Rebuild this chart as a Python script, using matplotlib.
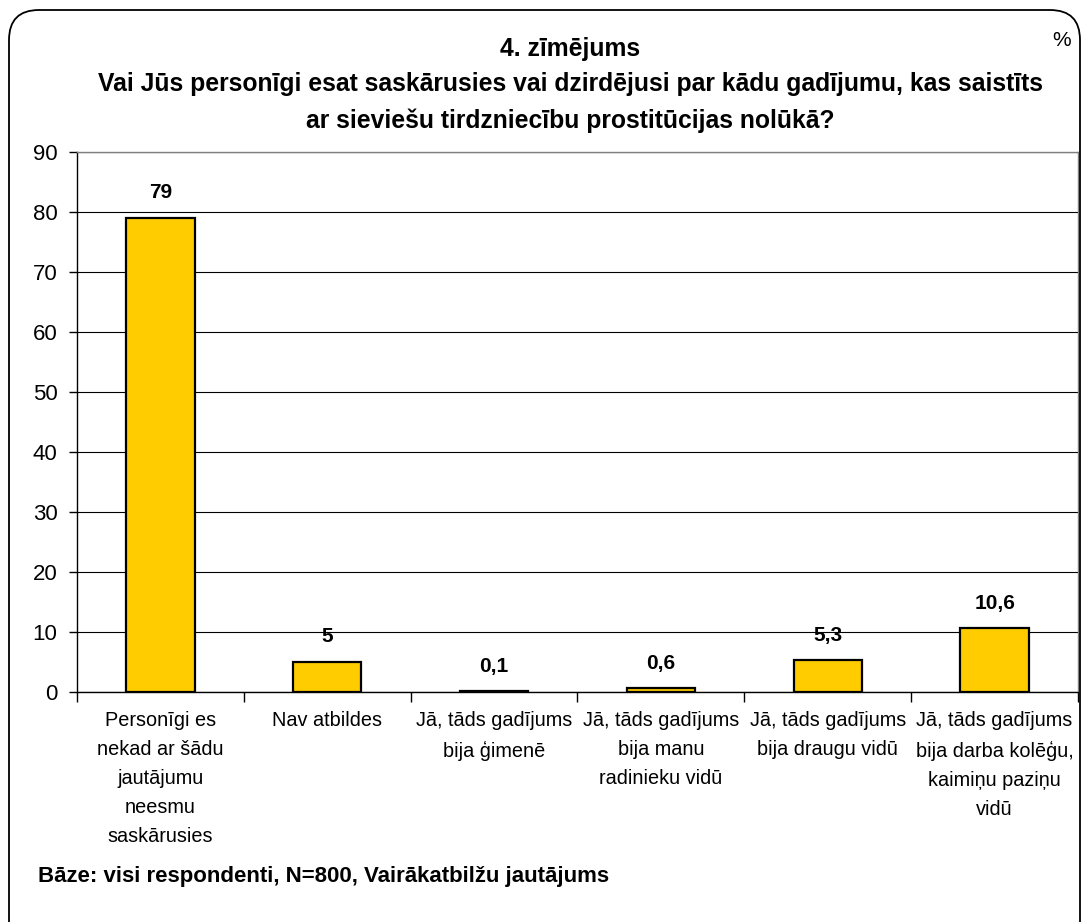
import matplotlib.pyplot as plt
import numpy as np
from matplotlib.patches import FancyBboxPatch
from matplotlib.transforms import IdentityTransform

plt.rcParams['font.family'] = ['Liberation Sans', 'DejaVu Sans']

categories = [
    "Personīgi es\nnekad ar šādu\njautājumu\nneesmu\nsaskārusies",
    "Nav atbildes",
    "Jā, tāds gadījums\nbija ģimenē",
    "Jā, tāds gadījums\nbija manu\nradinieku vidū",
    "Jā, tāds gadījums\nbija draugu vidū",
    "Jā, tāds gadījums\nbija darba kolēģu,\nkaimiņu paziņu\nvidū",
]
values = [79, 5, 0.1, 0.6, 5.3, 10.6]
value_labels = ["79", "5", "0,1", "0,6", "5,3", "10,6"]
y_ticks = [0, 10, 20, 30, 40, 50, 60, 70, 80, 90]

title = ("4. zīmējums\n"
         "Vai Jūs personīgi esat saskārusies vai dzirdējusi par kādu gadījumu, kas saistīts\n"
         "ar sieviešu tirdzniecību prostitūcijas nolūkā?")
note = "Bāze: visi respondenti, N=800, Vairākatbilžu jautājums"

fig = plt.figure(figsize=(10.82, 9.22), dpi=100)

# rounded frame around the whole chart (pixel coords)
frame = FancyBboxPatch((9 + 30, -40 + 30), 1071 - 60, 952 - 60,
                       boxstyle="round,pad=30,rounding_size=30",
                       transform=IdentityTransform(), facecolor='none',
                       edgecolor='black', linewidth=1.3)
fig.patches.append(frame)

ax = fig.add_axes([77 / 1082, 1 - 692 / 922, (1078 - 77) / 1082, (692 - 152) / 922])
x = np.arange(len(values))
ax.bar(x, values, width=0.41, color='#FFCC00', edgecolor='black', linewidth=1.6, zorder=3)

for xi, v, lab in zip(x, values, value_labels):
    ax.annotate(lab, (xi, v), xytext=(0, 18), textcoords='offset points',
                ha='center', va='center', fontsize=15, fontweight='bold')

ax.set_xlim(-0.5, len(values) - 0.5)
ax.set_ylim(0, 90)
ax.set_yticks(y_ticks)
ax.tick_params(axis='y', labelsize=16, length=6, width=1, direction='out', pad=8)
ax.yaxis.grid(True, color='black', linewidth=0.8, zorder=0)
ax.set_axisbelow(True)

ax.set_xticks(x)
ax.set_xticklabels(categories, fontsize=14.3, linespacing=1.66)
ax.tick_params(axis='x', length=0, pad=14)
ax.set_xticks(np.arange(len(values) + 1) - 0.5, minor=True)
ax.tick_params(axis='x', which='minor', length=7, width=1, direction='out')

for side in ['top', 'right']:
    ax.spines[side].set_color('#808080')
    ax.spines[side].set_linewidth(1)
ax.spines['left'].set_linewidth(1)
ax.spines['bottom'].set_linewidth(1)

fig.text(570 / 1082, 1 - 37 / 922, title, ha='center', va='top', fontsize=17.8,
         fontweight='bold', linespacing=1.6)
fig.text(1062 / 1082, 1 - 41 / 922, "%", ha='center', va='center', fontsize=15)
fig.text(38 / 1082, 1 - 876 / 922, note, ha='left', va='center', fontsize=16, fontweight='bold')

fig.savefig('out.png', dpi=100)
